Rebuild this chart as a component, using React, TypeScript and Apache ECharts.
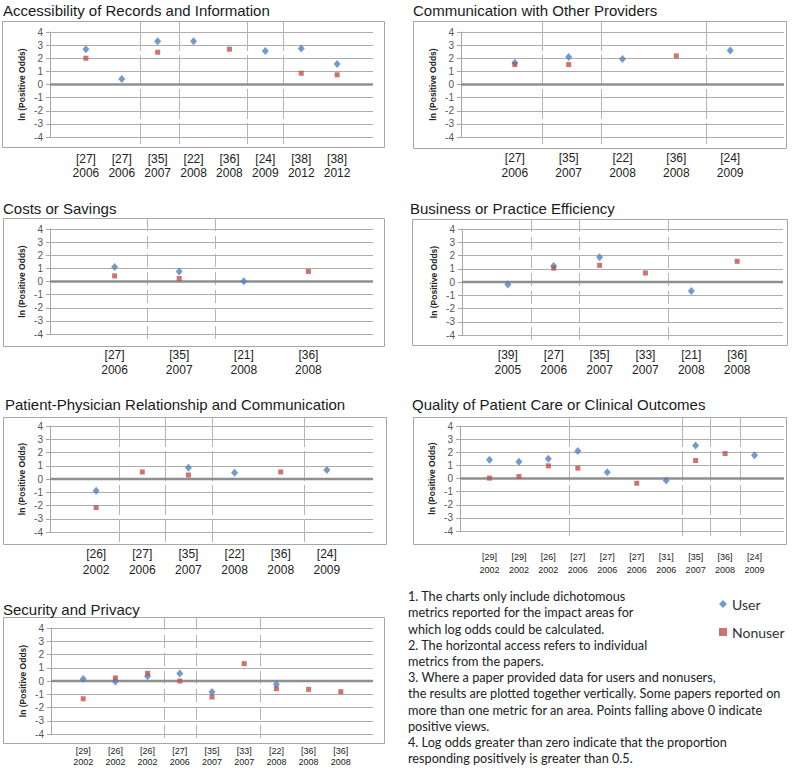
import React, { useEffect, useRef } from "react";
import * as echarts from "echarts";

// ---------- DATA ----------
const accTitle = "Accessibility of Records and Information";
const accRefs = ["[27]", "[27]", "[35]", "[22]", "[36]", "[24]", "[38]", "[38]"];
const accYears = ["2006", "2006", "2007", "2008", "2008", "2009", "2012", "2012"];
const accUser = [2.69, 0.41, 3.3, 3.3, null, 2.56, 2.74, 1.57];
const accNon = [2.0, null, 2.46, null, 2.69, null, 0.86, 0.74];
const accSeps = [2.5, 3.6, 5.5, 6.5];

const comTitle = "Communication with Other Providers";
const comRefs = ["[27]", "[35]", "[22]", "[36]", "[24]"];
const comYears = ["2006", "2007", "2008", "2008", "2009"];
const comUser = [1.65, 2.1, 1.95, null, 2.59];
const comNon = [1.52, 1.52, null, 2.18, null];
const comSeps = [1.5, 2.6, 4.55];

const costTitle = "Costs or Savings";
const costRefs = ["[27]", "[35]", "[21]", "[36]"];
const costYears = ["2006", "2007", "2008", "2008"];
const costUser = [1.11, 0.76, 0.02, null];
const costNon = [0.43, 0.23, null, 0.76];
const costSeps = [1.5, 2.55];

const busTitle = "Business or Practice Efficiency";
const busRefs = ["[39]", "[27]", "[35]", "[33]", "[21]", "[36]"];
const busYears = ["2005", "2006", "2007", "2007", "2008", "2008"];
const busUser = [-0.18, 1.2, 1.86, null, -0.68, null];
const busNon = [null, 1.05, 1.26, 0.68, null, 1.56];
const busSeps = [1.5, 2.55, 4.5];

const patTitle = "Patient-Physician Relationship and Communication";
const patRefs = ["[26]", "[27]", "[35]", "[22]", "[36]", "[24]"];
const patYears = ["2002", "2006", "2007", "2008", "2008", "2009"];
const patUser = [-0.88, null, 0.85, 0.48, null, 0.68];
const patNon = [-2.15, 0.53, 0.3, null, 0.53, null];
const patSeps = [1.5, 2.5, 3.5, 5.5];

const qualTitle = "Quality of Patient Care or Clinical Outcomes";
const qualRefs = ["[29]", "[29]", "[26]", "[27]", "[27]", "[27]", "[31]", "[35]", "[36]", "[24]"];
const qualYears = ["2002", "2002", "2002", "2006", "2006", "2006", "2006", "2007", "2008", "2009"];
const qualUser = [1.42, 1.27, 1.5, 2.1, 0.48, null, -0.15, 2.51, null, 1.78];
const qualNon = [0.03, 0.15, 0.96, 0.79, null, -0.36, null, 1.37, 1.9, null];
const qualSeps = [3.7, 7.55, 8.5, 9.5];

const secTitle = "Security and Privacy";
const secRefs = ["[29]", "[26]", "[26]", "[27]", "[35]", "[33]", "[22]", "[36]", "[36]"];
const secYears = ["2002", "2002", "2002", "2006", "2007", "2007", "2008", "2008", "2008"];
const secUser = [0.15, -0.03, 0.35, 0.56, -0.83, null, -0.25, null, null];
const secNon = [-1.34, 0.23, 0.58, 0.0, -1.21, 1.31, -0.58, -0.63, -0.81];
const secSeps = [3.5, 4.5, 6.5];

const yTicks = { min: -4, max: 4, interval: 1 };
const yName = "ln (Positive Odds)";
const seriesNames = ["User", "Nonuser"];

const noteLines = [
  "1. The charts only include dichotomous",
  "metrics reported for the impact areas for",
  "which log odds could be calculated.",
  "2. The horizontal access refers to individual",
  "metrics from the papers.",
  "3. Where a paper provided data for users and nonusers,",
  "the results are plotted together vertically. Some papers reported on",
  "more than one metric for an area. Points falling above 0 indicate",
  "positive views.",
  "4. Log odds greater than zero indicate that the proportion",
  "responding positively is greater than 0.5.",
];

// ---------- LAYOUT ----------
const FONT = "'Liberation Sans', Arial, sans-serif";
const NOTE_FONT = "Lato, 'Open Sans', sans-serif";
const BLUE = "#4F81BD";
const RED = "#C0504D";

type Panel = {
  title: string; refs: string[]; years: string[];
  user: (number | null)[]; non: (number | null)[]; seps: number[];
  box: [number, number, number, number];
  plot: [number, number, number, number]; // left, top, right, bottom
  titlePos: [number, number];
  lf: number; lh: number; lm: number;
  dash: number[]; ext: [number, number];
};

const panels: Panel[] = [
  { title: accTitle, refs: accRefs, years: accYears, user: accUser, non: accNon, seps: accSeps,
    box: [2, 21, 382, 126], plot: [50, 32, 373, 137], titlePos: [3, 11],
    lf: 12, lh: 14, lm: 15, dash: [30, 4], ext: [11, 7] },
  { title: comTitle, refs: comRefs, years: comYears, user: comUser, non: comNon, seps: comSeps,
    box: [413, 21, 373, 127], plot: [461, 32, 784, 137], titlePos: [413, 11],
    lf: 12, lh: 15, lm: 13, dash: [30, 4], ext: [11, 7] },
  { title: costTitle, refs: costRefs, years: costYears, user: costUser, non: costNon, seps: costSeps,
    box: [3, 218, 381, 128], plot: [50, 229, 373, 334], titlePos: [3, 209],
    lf: 12, lh: 15, lm: 13.5, dash: [13, 5], ext: [11, 8] },
  { title: busTitle, refs: busRefs, years: busYears, user: busUser, non: busNon, seps: busSeps,
    box: [412, 219, 375, 126], plot: [462, 229, 783, 335], titlePos: [410, 209],
    lf: 12, lh: 15, lm: 12.5, dash: [13, 5], ext: [10, 6] },
  { title: patTitle, refs: patRefs, years: patYears, user: patUser, non: patNon, seps: patSeps,
    box: [3, 417, 383, 127], plot: [50, 426, 373, 532], titlePos: [5, 405],
    lf: 12, lh: 16, lm: 13.5, dash: [30, 4], ext: [9, 10] },
  { title: qualTitle, refs: qualRefs, years: qualYears, user: qualUser, non: qualNon, seps: qualSeps,
    box: [413, 417, 373, 127], plot: [460, 426, 784, 531], titlePos: [412, 405],
    lf: 9, lh: 13, lm: 19, dash: [30, 4], ext: [9, 5] },
  { title: secTitle, refs: secRefs, years: secYears, user: secUser, non: secNon, seps: secSeps,
    box: [3, 617, 381, 126], plot: [51, 628, 373, 734], titlePos: [3, 610],
    lf: 9, lh: 11, lm: 11.5, dash: [13, 5], ext: [11, 7] },
];

function pairs(vals: (number | null)[]) {
  const out: number[][] = [];
  vals.forEach((v, i) => { if (v !== null) out.push([i + 1, v]); });
  return out;
}

function buildOption() {
  const grid: any[] = [];
  const xAxis: any[] = [];
  const yAxis: any[] = [];
  const series: any[] = [];
  const title: any[] = [];
  const graphic: any[] = [];

  panels.forEach((p, i) => {
    const [l, t, r, b] = p.plot;
    grid.push({ left: l, top: t, width: r - l, height: b - t, containLabel: false, outerBoundsMode: "none" });
    const n = p.refs.length;
    xAxis.push({
      type: "value", gridIndex: i, min: 0, max: n + 1, interval: 1,
      splitLine: { show: false }, axisLine: { show: false }, axisTick: { show: false },
      axisLabel: {
        fontFamily: FONT, fontSize: p.lf, lineHeight: p.lh, margin: p.lm, color: "#222",
        formatter: (v: number) => {
          const k = Math.round(v);
          return k >= 1 && k <= n ? `${p.refs[k - 1]}\n${p.years[k - 1]}` : "";
        },
      },
    });
    yAxis.push({
      type: "value", gridIndex: i, ...yTicks,
      name: yName, nameLocation: "middle", nameGap: 24, nameRotate: 90,
      nameTextStyle: { fontFamily: FONT, fontSize: 8.5, fontWeight: "bold", color: "#222" },
      axisLine: { show: true, lineStyle: { color: "#a6a6a6", width: 1 } },
      axisTick: { show: true, length: 4, lineStyle: { color: "#a6a6a6" } },
      splitLine: { show: true, lineStyle: { color: "#adadad", width: 1 } },
      axisLabel: { fontFamily: FONT, fontSize: 10, color: "#555", margin: 7 },
    });
    title.push({
      text: p.title, left: p.titlePos[0], top: p.titlePos[1] - 8, padding: 0,
      textStyle: { fontFamily: FONT, fontSize: 15, fontWeight: "normal", color: "#1a1a1a" },
    });
    graphic.push({
      type: "rect", shape: { x: p.box[0] + 0.5, y: p.box[1] + 0.5, width: p.box[2], height: p.box[3] },
      style: { fill: "none", stroke: "#a6a6a6", lineWidth: 1 }, silent: true, z: -1,
    });
    // year separators
    series.push({
      type: "custom", xAxisIndex: i, yAxisIndex: i, clip: false, z: 1, silent: true,
      data: p.seps.map((s) => [s, 0]),
      renderItem: (params: any, api: any) => {
        const x = api.value(0);
        const a = api.coord([x, yTicks.max]);
        const c = api.coord([x, yTicks.min]);
        return {
          type: "line",
          shape: { x1: Math.round(a[0]) + 0.5, y1: a[1] - p.ext[0], x2: Math.round(a[0]) + 0.5, y2: c[1] + p.ext[1] },
          style: { stroke: "#b5b5b5", lineWidth: 1, lineDash: p.dash },
        };
      },
    });
    // horizontal axis line at zero
    series.push({
      type: "custom", xAxisIndex: i, yAxisIndex: i, clip: false, z: 2, silent: true,
      data: [[0, 0]],
      renderItem: (params: any, api: any) => {
        const a = api.coord([0, 0]);
        const c = api.coord([n + 1, 0]);
        return {
          type: "line",
          shape: { x1: a[0], y1: a[1], x2: c[0], y2: c[1] },
          style: { stroke: "#8f8f8f", lineWidth: 2.5 },
        };
      },
    });
    series.push({
      type: "scatter", name: seriesNames[0], xAxisIndex: i, yAxisIndex: i, z: 3,
      symbol: "diamond", symbolSize: [7, 8], itemStyle: { color: BLUE },
      data: pairs(p.user),
    });
    series.push({
      type: "scatter", name: seriesNames[1], xAxisIndex: i, yAxisIndex: i, z: 4,
      symbol: "rect", symbolSize: 5, itemStyle: { color: RED },
      data: pairs(p.non),
    });
  });

  graphic.push({
    type: "text", left: 408, top: 588, silent: true,
    style: { text: noteLines.join("\n"), font: `12.7px ${NOTE_FONT}`, lineHeight: 16.2, fill: "#222" },
  });

  return {
    animation: false,
    backgroundColor: "#ffffff",
    title, grid, xAxis, yAxis, series, graphic,
    legend: {
      data: [
        { name: seriesNames[0], icon: "diamond" },
        { name: seriesNames[1], icon: "rect" },
      ],
      orient: "vertical", left: 719, top: 597, padding: 0, itemGap: 14,
      itemWidth: 8, itemHeight: 8, selectedMode: false,
      textStyle: { fontFamily: NOTE_FONT, fontSize: 14, color: "#333" },
    },
  };
}

export default function App() {
  const ref = useRef<HTMLDivElement>(null);
  useEffect(() => {
    if (!ref.current) return;
    const chart = echarts.init(ref.current, undefined, { renderer: "svg" });
    chart.setOption(buildOption() as any);
    return () => chart.dispose();
  }, []);
  return (
    <div
      ref={ref}
      style={{ position: "absolute", left: 0, top: 0, width: 798, height: 768, background: "#fff" }}
    />
  );
}
